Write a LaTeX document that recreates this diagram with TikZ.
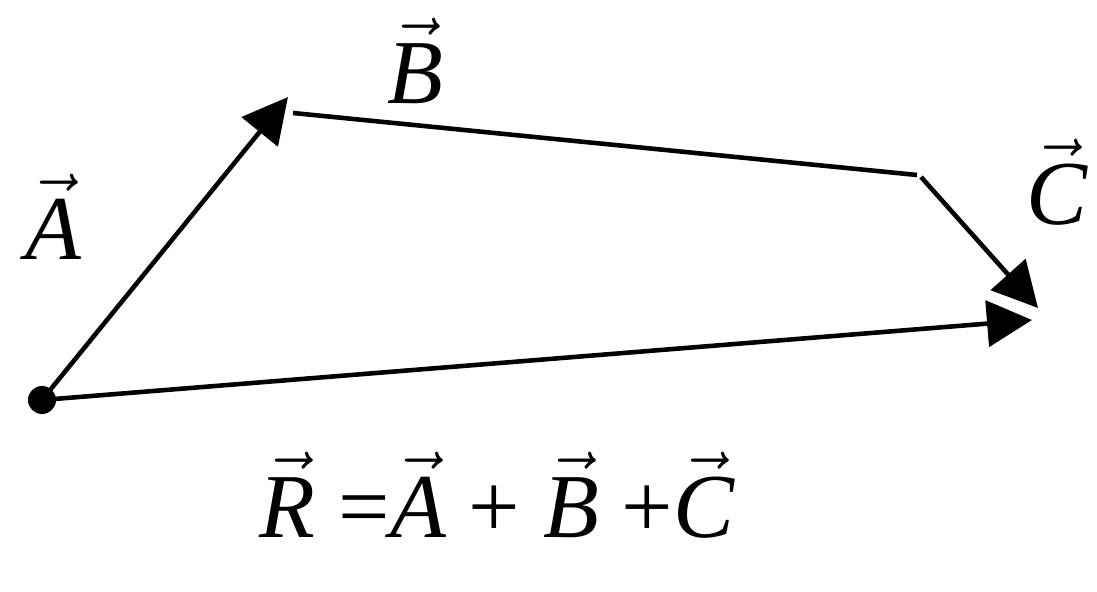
\documentclass[tikz,border=0pt]{standalone}
\usepackage{fontspec}
\setmainfont{Liberation Serif}
\usetikzlibrary{arrows.meta}
\newcommand{\vecit}[1]{$\vec{\mbox{\itshape #1}}$}
\begin{document}
\begin{tikzpicture}[>={Triangle[length=0.45cm, width=0.46cm]}, font=\fontsize{26}{30}\selectfont, vecline/.style={->, line width=1.3pt}]
    \useasboundingbox (0,0) rectangle (10.97,5.92);
    \coordinate (O) at (0.42,1.92);
    \coordinate (Atip) at (2.88,4.95);
    \coordinate (Bstart) at (2.93,4.79);
    \coordinate (Bend) at (9.17,4.17);
    \coordinate (Cstart) at (9.21,4.15);
    \coordinate (Ctip) at (10.38,2.84);
    \coordinate (Rtip) at (10.32,2.72);
    \draw[vecline] (O) -- (Atip);
    \draw[line width=1.3pt] (Bstart) -- (Bend);
    \draw[vecline] (Cstart) -- (Ctip);
    \draw[vecline] (O) -- (Rtip);
    \fill (O) circle (0.14);
    \node (labA) at (0.53,3.75) {\vecit{A}};
    \node (labB) at (4.15,5.31) {\vecit{B}};
    \node (labC) at (10.57,4.1) {\vecit{C}};
    \node (eq) at (4.97,0.97) {\vecit{R} =\vecit{A} + \vecit{B} +\vecit{C}};
\end{tikzpicture}
\end{document}
